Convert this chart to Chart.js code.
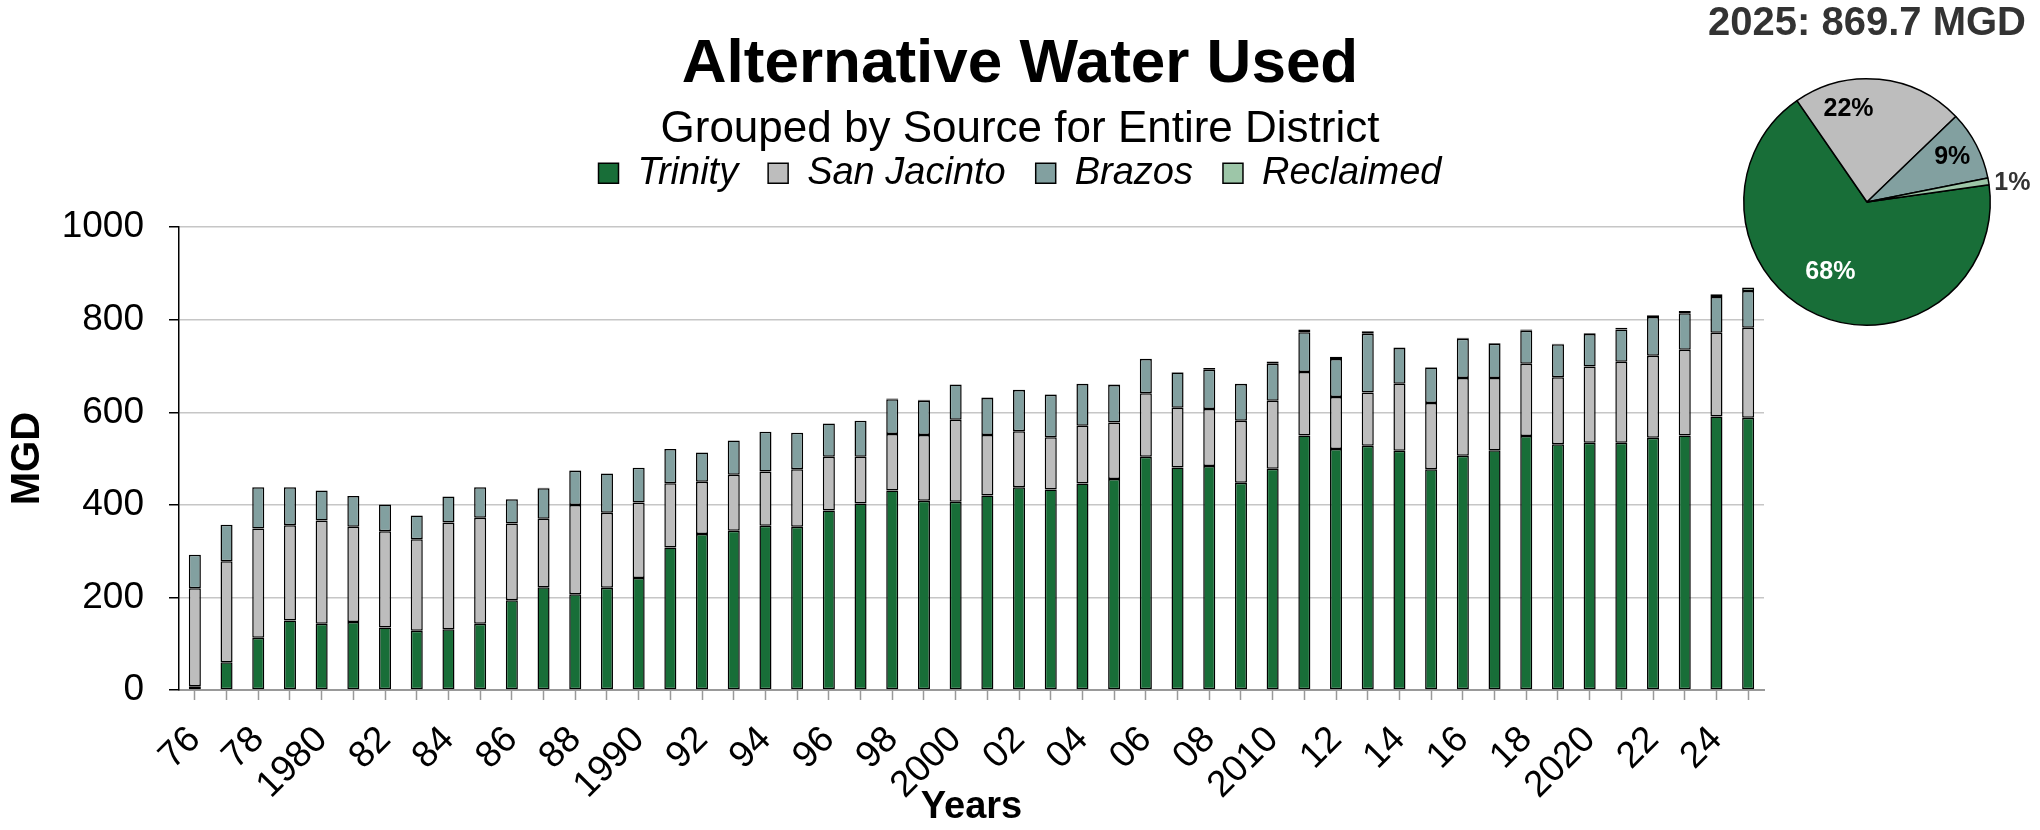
<!DOCTYPE html>
<html>
<head>
<meta charset="utf-8">
<title>Alternative Water Used</title>
<script src="https://cdn.jsdelivr.net/npm/chart.js@4.4.1/dist/chart.umd.min.js"></script>
<style>
  html, body { margin: 0; padding: 0; background: #fff; overflow: hidden; }
  #main { position: absolute; left: 0; top: 0; width: 2040px; height: 830px; }
  #pie { position: absolute; left: 1694px; top: 0; width: 346px; height: 330px; }
</style>
</head>
<body>
<div id="main"><canvas id="bars"></canvas></div>
<div id="pie"><canvas id="share"></canvas></div>
<script>
// Years on the category axis
const years = [1976, 1977, 1978, 1979, 1980, 1981, 1982, 1983, 1984, 1985,
               1986, 1987, 1988, 1989, 1990, 1991, 1992, 1993, 1994, 1995,
               1996, 1997, 1998, 1999, 2000, 2001, 2002, 2003, 2004, 2005,
               2006, 2007, 2008, 2009, 2010, 2011, 2012, 2013, 2014, 2015,
               2016, 2017, 2018, 2019, 2020, 2021, 2022, 2023, 2024, 2025];

// Only every other year gets a label
const tickLabels = ['76', '', '78', '', '1980', '', '82', '', '84', '',
                    '86', '', '88', '', '1990', '', '92', '', '94', '',
                    '96', '', '98', '', '2000', '', '02', '', '04', '',
                    '06', '', '08', '', '2010', '', '12', '', '14', '',
                    '16', '', '18', '', '2020', '', '22', '', '24', ''];

const yTicks = [0, 200, 400, 600, 800, 1000];

const seriesNames = ['Trinity', 'San Jacinto', 'Brazos', 'Reclaimed'];

// MGD by source
const trinity = [8, 60, 113, 150, 143, 147, 135, 128, 131, 143,
                 194, 222, 207, 221, 242, 308, 337, 344, 355, 353,
                 388, 403, 431, 409, 407, 420, 438, 433, 446, 456,
                 504, 481, 484, 448, 478, 550, 521, 528, 517, 477,
                 506, 518, 549, 531, 534, 534, 545, 550, 591, 588];
const sanJacinto = [212, 218, 236, 206, 223, 206, 208, 198, 231, 229,
                    166, 148, 193, 162, 163, 139, 113, 121, 117, 124,
                    116, 101, 122, 142, 177, 131, 121, 113, 125, 122,
                    137, 129, 123, 134, 147, 137, 112, 115, 145, 143,
                    168, 156, 156, 145, 165, 175, 177, 185, 181, 195];
const brazos = [72, 79, 89, 82, 65, 66, 58, 51, 56, 66,
                52, 66, 74, 85, 75, 74, 63, 74, 86, 79,
                72, 78, 75, 74, 76, 80, 89, 92, 90, 81,
                74, 76, 85, 79, 80, 86, 82, 127, 77, 77,
                85, 74, 71, 71, 70, 70, 84, 79, 77, 79];
const reclaimed = [0, 0, 0, 0, 0, 0, 0, 0, 0, 0,
                   0, 1, 1, 0, 0, 0, 0, 0, 0, 0,
                   0, 0, 2, 2, 0, 1, 1, 1, 1, 1,
                   1, 1, 4, 1, 5, 6, 5, 5, 1, 1,
                   2, 2, 3, 1, 2, 4, 4, 5, 6, 7.7];

const colors = ['#186e38', '#bdbdbd', '#82a0a0', '#9dc6a8'];
const series = [trinity, sanJacinto, brazos, reclaimed];

Chart.defaults.font.family = "'Liberation Sans', Arial, sans-serif";
Chart.defaults.color = '#000';
Chart.defaults.animation = false;

// Stacked bars
new Chart(document.getElementById('bars'), {
    type: 'bar',
    data: {
        labels: years,
        datasets: series.map((vals, i) => ({
            label: seriesNames[i],
            data: vals,
            backgroundColor: colors[i],
            borderColor: '#000',
            borderWidth: 1.5,
            borderSkipped: false,
            barPercentage: 0.38,
            categoryPercentage: 1
        }))
    },
    options: {
        responsive: true,
        maintainAspectRatio: false,
        layout: { padding: 0 },
        plugins: {
            title: {
                display: true,
                text: 'Alternative Water Used',
                color: '#000',
                font: { size: 62, weight: 'bold' },
                padding: { top: 28, bottom: 1 }
            },
            subtitle: {
                display: true,
                text: 'Grouped by Source for Entire District',
                color: '#000',
                font: { size: 44 },
                padding: { top: 0, bottom: -32 }
            },
            legend: {
                labels: {
                    boxWidth: 20,
                    boxHeight: 20,
                    padding: 30,
                    color: '#000',
                    font: { size: 38, style: 'italic' }
                }
            },
            tooltip: { enabled: false }
        },
        scales: {
            x: {
                stacked: true,
                grid: { drawOnChartArea: false, offset: false, tickLength: 10, tickColor: '#999', tickWidth: 1.5 },
                border: { color: '#999', width: 2 },
                ticks: {
                    autoSkip: false,
                    minRotation: 45,
                    maxRotation: 45,
                    padding: 18,
                    font: { size: 37 },
                    callback: (v, i) => tickLabels[i]
                },
                title: { display: true, text: 'Years', font: { size: 38, weight: 'bold' }, padding: 0 },
                afterFit: s => { s.height = 140; }
            },
            y: {
                stacked: true,
                min: yTicks[0],
                max: yTicks[yTicks.length - 1],
                afterBuildTicks: s => { s.ticks = yTicks.map(v => ({ value: v })); },
                ticks: { padding: 25, font: { size: 37 }, callback: v => String(v) },
                grid: { color: '#c6c6c6', lineWidth: 1.5, tickLength: 10, tickColor: '#000' },
                border: { color: '#000', width: 1.5 },
                title: { display: true, text: 'MGD', font: { size: 40, weight: 'bold' }, padding: { top: 4 } },
                afterFit: s => { s.width = 179; }
            },
            // empty spacers: gap under the legend, room for the pie on the right
            xTop: {
                type: 'linear', position: 'top',
                grid: { display: false }, border: { display: false }, ticks: { display: false },
                afterFit: s => { s.height = 25; }
            },
            yRight: {
                type: 'linear', position: 'right',
                grid: { display: false }, border: { display: false }, ticks: { display: false },
                afterFit: s => { s.width = 276; }
            }
        }
    }
});

// 2025 share pie
const lastIdx = years.length - 1;
const shares = series.map(s => s[lastIdx]);
const total = shares.reduce((a, b) => a + b, 0);

const pieLabelColor = ['#fff', '#000', '#000', '#333'];
const pieLabelRadius = [0.64, 0.77, 0.78, 1.19];
const pieLabelTurn = [4, -17, 0, 2];

const pieLabels = {
    id: 'pieLabels',
    afterDatasetsDraw(chart) {
        const ctx = chart.ctx;
        const meta = chart.getDatasetMeta(0);
        ctx.save();
        ctx.font = "bold 25px 'Liberation Sans', Arial, sans-serif";
        ctx.textAlign = 'center';
        ctx.textBaseline = 'middle';
        meta.data.forEach((arc, i) => {
            const p = arc.getProps(['x', 'y', 'startAngle', 'endAngle', 'outerRadius'], true);
            const a = (p.startAngle + p.endAngle) / 2 + pieLabelTurn[i] * Math.PI / 180;
            const r = p.outerRadius * pieLabelRadius[i];
            ctx.fillStyle = pieLabelColor[i];
            ctx.fillText(Math.round(shares[i] / total * 100) + '%', p.x + Math.cos(a) * r, p.y + Math.sin(a) * r);
        });
        ctx.restore();
    }
};

new Chart(document.getElementById('share'), {
    type: 'pie',
    data: {
        labels: seriesNames,
        datasets: [{
            data: shares,
            backgroundColor: colors,
            borderColor: '#000',
            borderWidth: 1.5
        }]
    },
    options: {
        responsive: true,
        maintainAspectRatio: false,
        rotation: 82,
        layout: { padding: { left: 0, right: 0, top: 0, bottom: 4 } },
        plugins: {
            title: {
                display: true,
                text: years[lastIdx] + ': ' + total.toFixed(1) + ' MGD',
                color: '#333',
                font: { size: 40, weight: 'bold' },
                padding: { top: 0, bottom: 30 }
            },
            legend: { display: false },
            tooltip: { enabled: false }
        }
    },
    plugins: [pieLabels]
});
</script>
</body>
</html>
